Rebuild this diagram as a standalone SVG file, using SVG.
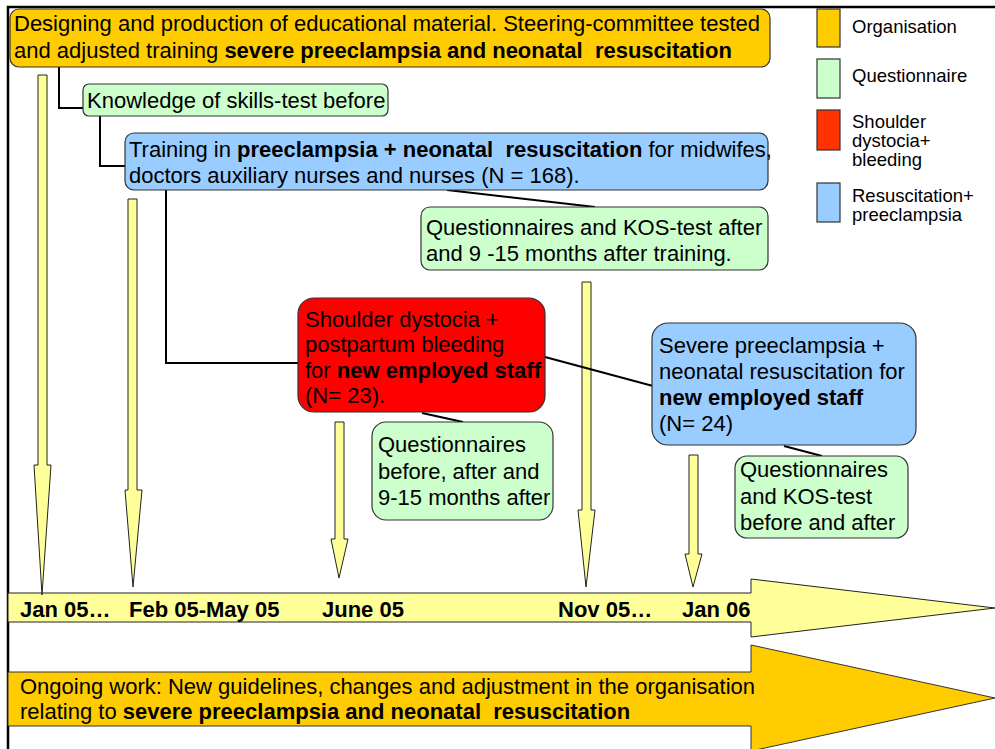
<svg xmlns="http://www.w3.org/2000/svg" width="995" height="749" viewBox="0 0 995 749">
  <style>
    text { font-family: "Liberation Sans", Arial, sans-serif; font-size: 22px; fill: #000; white-space: pre; }
    .b { font-weight: bold; }
    .leg { font-size: 18.5px; }
    .box { stroke: #333; stroke-width: 1.2; }
    .org { fill: #FFCC00; }
    .q { fill: #CCFFCC; }
    .red { fill: #FF0000; }
    .blue { fill: #99CCFF; }
    .tick { fill: #FFFF99; stroke: #222; stroke-width: 1; }
    .conn { fill: none; stroke: #000; stroke-width: 2; }
  </style>

  <rect width="995" height="749" fill="#fff"/>

  <!-- page frame -->
  <path d="M8,749 V7 H995" fill="none" stroke="#000" stroke-width="2.5"/>

  <!-- timeline and ongoing-work arrows -->
  <g id="timeline">
    <path d="M8,593 H751 V579 L995,608 L751,637 V622 H8 Z" class="tick"/>
    <text class="b" x="20" y="617">Jan 05…</text>
    <text class="b" x="129" y="617">Feb 05-May 05</text>
    <text class="b" x="322" y="617">June 05</text>
    <text class="b" x="558" y="617">Nov 05…</text>
    <text class="b" x="682" y="617">Jan 06</text>
  </g>
  <g id="ongoing">
    <path d="M8,672 H751 V645 L995,698 L751,751 V726 H8 Z" fill="#FFCC00" stroke="#333" stroke-width="1"/>
    <text x="20" y="694">Ongoing work: New guidelines, changes and adjustment in the organisation</text>
    <text x="20" y="719">relating to <tspan class="b">severe preeclampsia and neonatal  resuscitation</tspan></text>
  </g>

  <!-- downward milestone arrows -->
  <g id="milestones">
    <path class="tick" d="M38,75 H47 V465 H51 L42,595 L34,465 H38 Z"/>
    <path class="tick" d="M128,199 H137 V490 H142 L133,587 L125,490 H128 Z"/>
    <path class="tick" d="M335,422 H344 V539 H348 L339,578 L331,539 H335 Z"/>
    <path class="tick" d="M582,282 H591 V510 H595 L586,587 L578,510 H582 Z"/>
    <path class="tick" d="M689,455 H698 V554 H702 L693,587 L685,554 H689 Z"/>
  </g>

  <!-- connectors -->
  <g id="connectors">
    <path class="conn" d="M59,67 V108 H83"/>
    <path class="conn" d="M100,116 V166 H125"/>
    <path class="conn" d="M166,190 V363 H298"/>
    <path class="conn" d="M447,190 L595,207"/>
    <path class="conn" d="M545,357 L653,386"/>
    <path class="conn" d="M422,413 L463,422"/>
    <path class="conn" d="M784,446 L822,456"/>
  </g>

  <!-- nodes -->
  <g id="design">
    <rect class="box org" x="10" y="9" width="760" height="58" rx="9"/>
    <text x="14" y="31">Designing and production of educational material. Steering-committee tested</text>
    <text x="14" y="58">and adjusted training <tspan class="b">severe preeclampsia and neonatal  resuscitation</tspan></text>
  </g>

  <g id="knowledge-test">
    <rect class="box q" x="83" y="84" width="305" height="32" rx="6"/>
    <text x="87" y="108">Knowledge of skills-test before</text>
  </g>

  <g id="training">
    <rect class="box blue" x="125" y="133" width="643" height="57" rx="9"/>
    <text x="129" y="157">Training in <tspan class="b">preeclampsia + neonatal  resuscitation</tspan> for midwifes,</text>
    <text x="129" y="183">doctors auxiliary nurses and nurses (N = 168).</text>
  </g>

  <g id="training-followup">
    <rect class="box q" x="421" y="207" width="347" height="63" rx="9"/>
    <text x="426" y="235">Questionnaires and KOS-test after</text>
    <text x="426" y="261">and 9 -15 months after training.</text>
  </g>

  <g id="shoulder-dystocia">
    <rect class="box red" x="298" y="298" width="247" height="114" rx="16"/>
    <text x="305" y="327">Shoulder dystocia +</text>
    <text x="305" y="352">postpartum bleeding</text>
    <text x="305" y="378">for <tspan class="b">new employed staff</tspan></text>
    <text x="305" y="403">(N= 23).</text>
  </g>

  <g id="shoulder-questionnaires">
    <rect class="box q" x="372" y="422" width="181" height="98" rx="14"/>
    <text x="378" y="452">Questionnaires</text>
    <text x="378" y="479">before, after and</text>
    <text x="378" y="505">9-15 months after</text>
  </g>

  <g id="severe-preeclampsia">
    <rect class="box blue" x="652" y="323" width="264" height="122" rx="16"/>
    <text x="659" y="353">Severe preeclampsia +</text>
    <text x="659" y="379">neonatal resuscitation for</text>
    <text class="b" x="659" y="405">new employed staff</text>
    <text x="659" y="431">(N= 24)</text>
  </g>

  <g id="severe-questionnaires">
    <rect class="box q" x="735" y="456" width="173" height="82" rx="12"/>
    <text x="740" y="477">Questionnaires</text>
    <text x="740" y="504">and KOS-test</text>
    <text x="740" y="530">before and after</text>
  </g>

  <!-- legend -->
  <g id="legend">
    <rect class="box org" x="817" y="9" width="23" height="38"/>
    <text class="leg" x="852" y="33">Organisation</text>
    <rect class="box q" x="817" y="59" width="23" height="39"/>
    <text class="leg" x="852" y="82">Questionnaire</text>
    <rect class="box" x="817" y="110" width="23" height="40" fill="#FF3300"/>
    <text class="leg" x="852" y="128">Shoulder</text>
    <text class="leg" x="852" y="147">dystocia+</text>
    <text class="leg" x="852" y="166">bleeding</text>
    <rect class="box blue" x="817" y="183" width="23" height="39"/>
    <text class="leg" x="852" y="202">Resuscitation+</text>
    <text class="leg" x="852" y="221">preeclampsia</text>
  </g>
</svg>
